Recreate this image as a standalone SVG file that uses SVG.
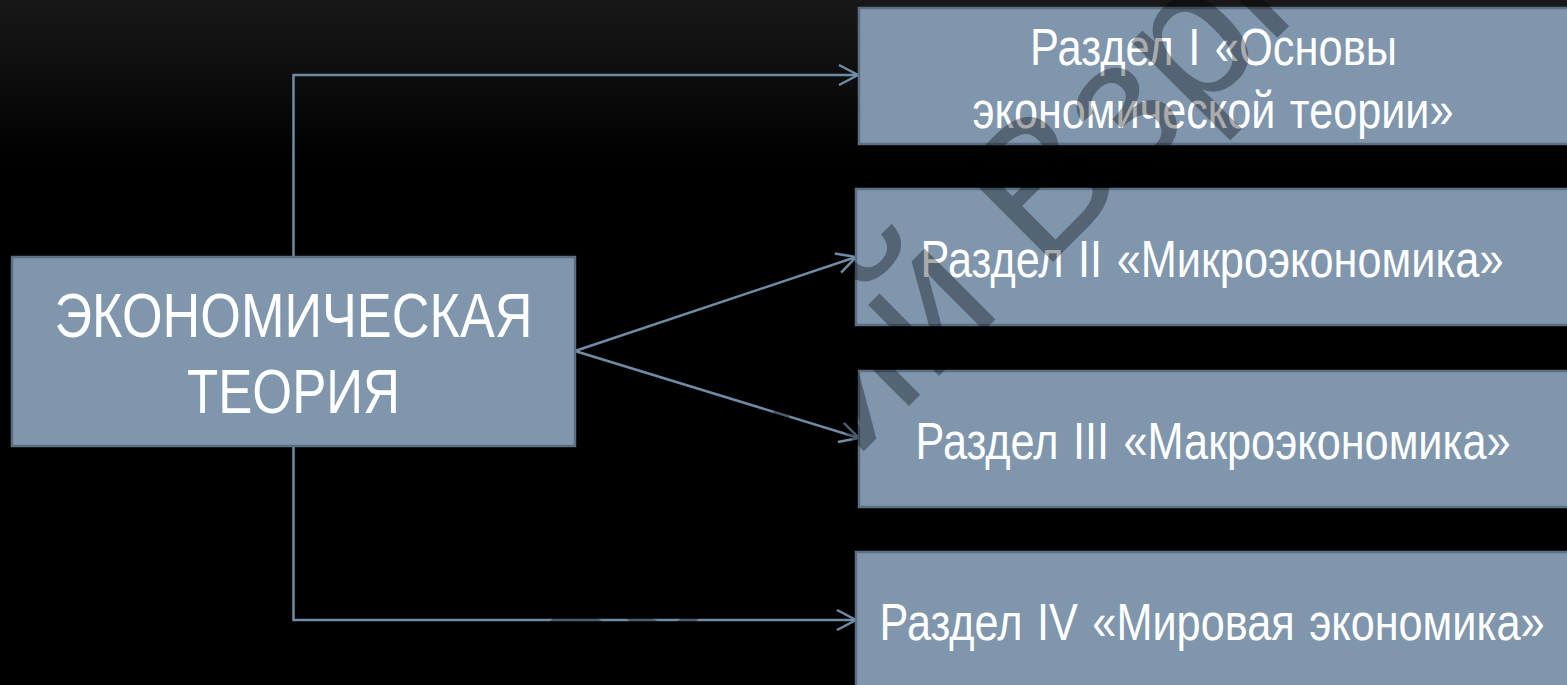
<svg xmlns="http://www.w3.org/2000/svg" width="1567" height="685" viewBox="0 0 1567 685">
<style>
.box{fill:#7f96ad;stroke:#5a6f82;stroke-width:2.5}
.t{font-family:"Liberation Sans",Arial,sans-serif;fill:#fff;text-anchor:middle}
.s{font-size:52px;word-spacing:3px}
.b{font-size:63px}
.c{fill:none;stroke:#6f8ba5;stroke-width:2.5}
.w{font-family:"Liberation Sans",Arial,sans-serif;font-size:190px;fill:#000;fill-opacity:.33}
</style>
<defs>
<linearGradient id="bg" x1="0" y1="0" x2="0" y2="1"><stop offset="0" stop-color="#181818"/><stop offset="0.24" stop-color="#000"/></linearGradient>
<marker id="a" markerUnits="userSpaceOnUse" markerWidth="24" markerHeight="26" refX="21" refY="12" orient="auto"><path d="M2 2L21 12L2 22" fill="none" stroke="#6f8ba5" stroke-width="2.5"/></marker>
</defs>
<rect width="1567" height="685" fill="url(#bg)"/>
<g id="connectors">
<path class="c" d="M293.500 257V75H858" marker-end="url(#a)"/>
<path class="c" d="M575 351L856 257" marker-end="url(#a)"/>
<path class="c" d="M575 351L859 438" marker-end="url(#a)"/>
<path class="c" d="M293.500 446V620H856" marker-end="url(#a)"/>
</g>
<g id="n0"><rect class="box" x="12" y="257" width="563" height="189"/>
<text class="t b" x="293.500" y="337" textLength="478" lengthAdjust="spacingAndGlyphs">ЭКОНОМИЧЕСКАЯ</text>
<text class="t b" x="293.500" y="413" textLength="213" lengthAdjust="spacingAndGlyphs">ТЕОРИЯ</text></g>
<g id="n1"><rect class="box" x="859" y="8" width="710" height="136"/>
<text class="t s" x="1213.500" y="65" textLength="367" lengthAdjust="spacingAndGlyphs">Раздел I «Основы</text>
<text class="t s" x="1213" y="128" textLength="481" lengthAdjust="spacingAndGlyphs">экономической теории»</text></g>
<g id="n2"><rect class="box" x="856" y="189" width="713" height="136"/>
<text class="t s" x="1212" y="277" textLength="583" lengthAdjust="spacingAndGlyphs">Раздел II «Микроэкономика»</text></g>
<g id="n3"><rect class="box" x="859" y="371" width="710" height="136"/>
<text class="t s" x="1213" y="459" textLength="595" lengthAdjust="spacingAndGlyphs">Раздел III «Макроэкономика»</text></g>
<g id="n4"><rect class="box" x="856" y="552" width="713" height="136"/>
<text class="t s" x="1212" y="640" textLength="665" lengthAdjust="spacingAndGlyphs">Раздел IV «Мировая экономика»</text></g>
<text class="w" transform="translate(580 735) rotate(-45)">ебский Взрп</text>
</svg>
